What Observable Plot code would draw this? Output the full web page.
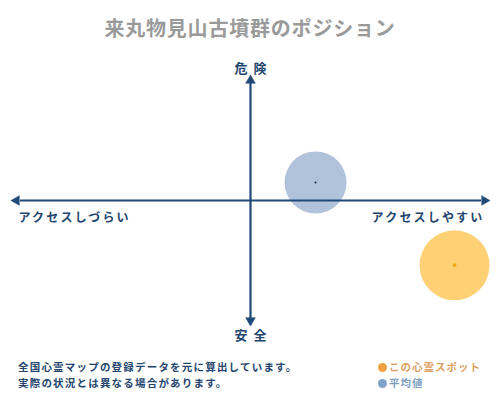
<!DOCTYPE html>
<html><head><meta charset="utf-8">
<script src="https://cdn.jsdelivr.net/npm/d3@7"></script>
<script src="https://cdn.jsdelivr.net/npm/@observablehq/plot@0.6"></script>
<style>
body{margin:0;width:500px;height:400px;background:#fff;font-family:"Noto Sans CJK JP",sans-serif;overflow:hidden}
#title{height:50px;line-height:56px;text-align:center;font-size:20px;font-weight:bold;color:#9a9a9a;letter-spacing:0.8px}
#chart{height:295px}
#foot{position:relative;height:55px}
.note{position:absolute;left:18px;font-size:10.5px;font-weight:bold;color:#24466e;letter-spacing:1.2px}
.leg{position:absolute;left:378px;font-size:10.5px;font-weight:bold;letter-spacing:1px}
.leg span{display:inline-block;width:9px;height:9px;border-radius:50%;margin-right:2px;vertical-align:-1px}
</style></head>
<body>
<div id="title"></div>
<div id="chart"></div>
<div id="foot"></div>
<script>
const titleText = "来丸物見山古墳群のポジション";
const axisTop = "危険", axisBottom = "安全", axisLeft = "アクセスしづらい", axisRight = "アクセスしやすい";
const notes = ["全国心霊マップの登録データを元に算出しています。", "実際の状況とは異なる場合があります。"];
const legendNames = ["この心霊スポット", "平均値"];
const spotX = [0.872], spotY = [-0.54];
const avgX = [0.278], avgY = [0.15];

const navy = "#1f4a78";
document.getElementById("title").textContent = titleText;

const spot = spotX.map((x, i) => ({x, y: spotY[i]}));
const avg = avgX.map((x, i) => ({x, y: avgY[i]}));
const heads = [{x: 1, y: 0, rot: 90}, {x: -1, y: 0, rot: -90}, {x: 0, y: 1, rot: 0}, {x: 0, y: -1, rot: 180}];
const font = "Noto Sans CJK JP";
const lab = {fontWeight: "bold", fill: "#24466e", fontFamily: font};

const plot = Plot.plot({
  width: 500, height: 295,
  marginTop: 30, marginBottom: 25, marginLeft: 16, marginRight: 16,
  x: {domain: [-1, 1], axis: null},
  y: {domain: [-1, 1], axis: null},
  marks: [
    Plot.dot(avg, {x: "x", y: "y", r: 31, fill: "#a9bdd6", fillOpacity: 0.9}),
    Plot.dot(avg, {x: "x", y: "y", r: 1, fill: "#1a2a40"}),
    Plot.link([{x1: -0.985, y1: 0, x2: 0.985, y2: 0}, {x1: 0, y1: -0.985, x2: 0, y2: 0.985}],
      {x1: "x1", y1: "y1", x2: "x2", y2: "y2", stroke: navy, strokeWidth: 2.2}),
    Plot.dot(heads, {x: "x", y: "y", symbol: "triangle", r: 3.6, fill: navy, stroke: navy, strokeWidth: 0.5, rotate: "rot"}),
    Plot.dot(spot, {x: "x", y: "y", r: 35, fill: "#ffc85c", fillOpacity: 0.85}),
    Plot.dot(spot, {x: "x", y: "y", symbol: "diamond2", r: 2, fill: "#f0a800"}),
    Plot.text([axisTop], {x: 0, y: 1, text: d => d, dy: -12, dx: 3, fontSize: 13, ...lab}),
    Plot.text([axisBottom], {x: 0, y: -1, text: d => d, dy: 15, dx: 3, fontSize: 13, ...lab}),
    Plot.text([axisLeft], {x: -1, y: 0, text: d => d, dy: 18, dx: 2, textAnchor: "start", fontSize: 12, ...lab}),
    Plot.text([axisRight], {x: 1, y: 0, text: d => d, dy: 18, dx: 0, textAnchor: "end", fontSize: 12, ...lab})
  ]
});
d3.select(plot).selectAll("text").each(function() {
  const t = this.textContent;
  if (t === axisTop || t === axisBottom) this.setAttribute("letter-spacing", "6");
  else if (t === axisLeft || t === axisRight) this.setAttribute("letter-spacing", "2.2");
});
document.getElementById("chart").appendChild(plot);

const foot = document.getElementById("foot");
notes.forEach((t, i) => {
  const d = document.createElement("div");
  d.className = "note"; d.textContent = t; d.style.top = (14 + i * 16) + "px";
  foot.appendChild(d);
});
const legColors = [["#f0a040", "#e0a060"], ["#7fa3c8", "#7f9fc0"]];
legendNames.forEach((t, i) => {
  const d = document.createElement("div");
  d.className = "leg"; d.style.top = (14 + i * 16) + "px"; d.style.color = legColors[i][1];
  const s = document.createElement("span"); s.style.background = legColors[i][0];
  d.appendChild(s); d.appendChild(document.createTextNode(t));
  foot.appendChild(d);
});
</script>
</body></html>
